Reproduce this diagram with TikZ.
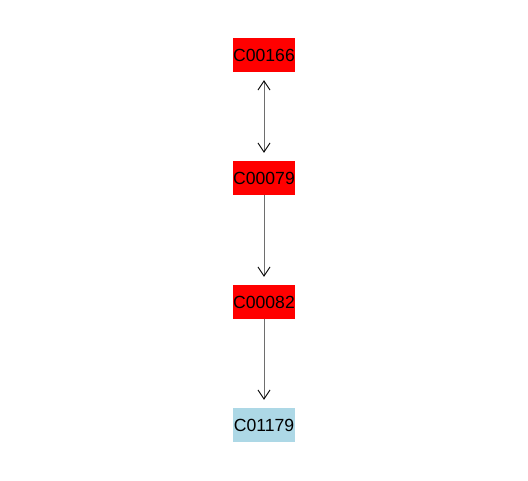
\documentclass[tikz,border=0pt]{standalone}
\usepackage{fontspec}
\setmainfont{Liberation Sans}
\usetikzlibrary{arrows.meta}
\begin{document}
\begin{tikzpicture}[x=1pt,y=-1pt,
  cpd/.style={text width=62pt,align=center,minimum height=34pt,inner sep=0pt,font=\fontsize{17.6}{18}\selectfont},
  hit/.style={cpd,fill=red},
  other/.style={cpd,fill={rgb,255:red,173;green,216;blue,230}},
  tip/.tip={Straight Barb[length=9pt,width=12pt,color=black,line width=0.9pt]},
  conn/.style={draw={rgb,255:red,110;green,110;blue,110},line width=1pt,
    -tip,shorten >=8pt}]
\useasboundingbox (0,0) rectangle (528,480);
\node[hit] (a) at (264,55) {\makebox[62pt]{C00166}};
\node[hit] (b) at (264,178) {\makebox[62pt]{C00079}};
\node[hit] (c) at (264,302) {\makebox[62pt]{C00082}};
\node[other] (d) at (264,425) {\makebox[62pt]{C01179}};
\draw[conn,tip-tip,shorten <=8pt] (a) -- (b);
\draw[conn] (b) -- (c);
\draw[conn] (c) -- (d);
\end{tikzpicture}
\end{document}
